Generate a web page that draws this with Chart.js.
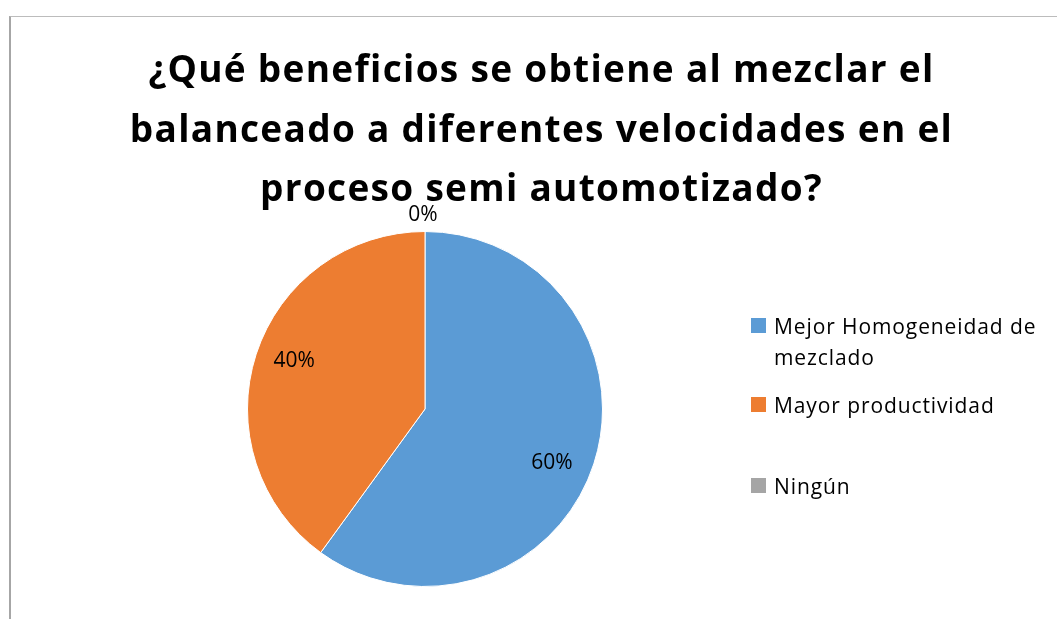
<!DOCTYPE html>
<html>
<head>
<meta charset="utf-8">
<script src="https://cdn.jsdelivr.net/npm/chart.js@4/dist/chart.umd.min.js"></script>
<style>
  html, body { margin: 0; padding: 0; background: #fff; }
  #wrap { position: relative; width: 1057px; height: 619px; overflow: hidden; }
  #frame {
    position: absolute; left: 9px; top: 16px; width: 1100px; height: 700px;
    border-left: 2px solid #a6a6a6; border-top: 1px solid #bcbcbc;
  }
  #title {
    position: absolute; left: 25px; width: 1033px; top: 38px;
    text-align: center; font-family: "Open Sans", sans-serif; font-weight: bold;
    font-size: 37px; line-height: 59.5px; color: #000; letter-spacing: 1.3px;
  }
  #chart { position: absolute; left: 0; top: 0; }
  #legend { position: absolute; left: 751px; top: 311px; font-family: "Open Sans", sans-serif; font-size: 21px; color: #000; letter-spacing: 0.9px; }
  .item { position: absolute; left: 0; white-space: nowrap; line-height: 31px; }
  .box { position: absolute; left: 0; top: 7px; width: 15px; height: 15px; }
  .txt { position: absolute; left: 23px; top: 0; }
</style>
</head>
<body>
<div id="wrap">
  <div id="frame"></div>
  <canvas id="chart" width="1057" height="619"></canvas>
  <div id="title"></div>
  <div id="legend"></div>
</div>
<script>
// chart data
const titleLines = [
  '¿Qué beneficios se obtiene al mezclar el',
  'balanceado a diferentes velocidades en el',
  'proceso semi automotizado?'
];
const categories = ['Mejor Homogeneidad de mezclado', 'Mayor productividad', 'Ningún'];
const legendLines = [['Mejor Homogeneidad de', 'mezclado'], ['Mayor productividad'], ['Ningún']];
const values = [60, 40, 0];
const colors = ['#5B9BD5', '#ED7D31', '#A5A5A5'];

document.getElementById('title').innerHTML = titleLines.join('<br>');

// legend
const legend = document.getElementById('legend');
const legendTops = [0, 79, 160];
categories.forEach((cat, i) => {
  const item = document.createElement('div');
  item.className = 'item';
  item.style.top = legendTops[i] + 'px';
  item.innerHTML = '<div class="box" style="background:' + colors[i] + '"></div>' +
    '<div class="txt">' + legendLines[i].join('<br>') + '</div>';
  legend.appendChild(item);
});

// percentage labels drawn from arc elements
const pctLabels = {
  id: 'pctLabels',
  afterDatasetsDraw(chart) {
    const ctx = chart.ctx;
    const meta = chart.getDatasetMeta(0);
    const total = values.reduce((a, b) => a + b, 0);
    ctx.save();
    ctx.font = '21px "Open Sans", sans-serif';
    ctx.fillStyle = '#000';
    ctx.textAlign = 'center';
    ctx.textBaseline = 'middle';
    meta.data.forEach((arc, i) => {
      const p = arc.getProps(['x', 'y', 'startAngle', 'endAngle', 'outerRadius'], true);
      const mid = (p.startAngle + p.endAngle) / 2 + (values[i] === 0 ? 0 : 0.06);
      const r = values[i] === 0 ? p.outerRadius * 1.11 : p.outerRadius * 0.78;
      const x = p.x + Math.cos(mid) * r - 2;
      const y = p.y + Math.sin(mid) * r + 3;
      ctx.fillText(Math.round(values[i] / total * 100) + '%', x, y);
    });
    ctx.restore();
  }
};

new Chart(document.getElementById('chart'), {
  type: 'pie',
  data: {
    labels: categories,
    datasets: [{
      data: values,
      backgroundColor: colors,
      borderColor: '#fff',
      borderWidth: 1
    }]
  },
  options: {
    responsive: false,
    animation: false,
    layout: { padding: { left: 247, right: 454, top: 231, bottom: 32 } },
    plugins: {
      legend: { display: false },
      title: { display: false },
      tooltip: { enabled: false }
    }
  },
  plugins: [pctLabels]
});
</script>
</body>
</html>
